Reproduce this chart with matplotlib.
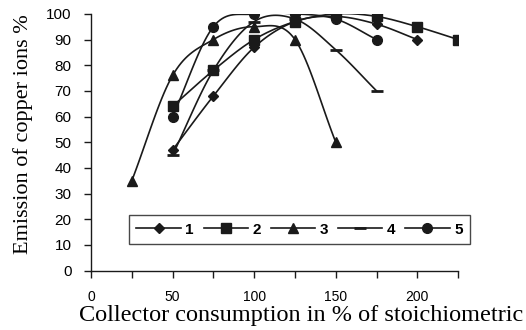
import numpy as np
import matplotlib
matplotlib.use("Agg")
import matplotlib.pyplot as plt

# collector consumption (% of stoichiometric) and emission (%) per series
x1 = [50, 75, 100, 125, 150, 175, 200]
y1 = [47, 68, 87, 97, 99, 96, 90]
x2 = [50, 75, 100, 125, 150, 175, 200, 225]
y2 = [64, 78, 90, 97, 100, 99, 95, 90]
x3 = [25, 50, 75, 100, 125, 150]
y3 = [35, 76, 90, 95, 90, 50]
x4 = [50, 75, 100, 125, 150, 175]
y4 = [45, 78, 97, 98, 86, 70]
x5 = [50, 75, 100, 125, 150, 175]
y5 = [60, 95, 100, 100, 98, 90]

labels = ["1", "2", "3", "4", "5"]
markers = ["D", "s", "^", "_", "o"]
msizes = [5, 7, 7, 9, 7]


def smooth(xs, ys, n=20):
    # catmull-rom style curve through the points, like Excel's smoothed line
    xs = np.asarray(xs, float)
    ys = np.asarray(ys, float)
    px = np.concatenate([[2 * xs[0] - xs[1]], xs, [2 * xs[-1] - xs[-2]]])
    py = np.concatenate([[2 * ys[0] - ys[1]], ys, [2 * ys[-1] - ys[-2]]])
    outx, outy = [], []
    t = np.linspace(0, 1, n)
    for i in range(1, len(px) - 2):
        for p, out in ((px, outx), (py, outy)):
            p0, p1, p2, p3 = p[i - 1], p[i], p[i + 1], p[i + 2]
            out.extend(0.5 * ((2 * p1) + (-p0 + p2) * t
                              + (2 * p0 - 5 * p1 + 4 * p2 - p3) * t ** 2
                              + (-p0 + 3 * p1 - 3 * p2 + p3) * t ** 3))
    return outx, outy


fig = plt.figure(figsize=(5.26, 3.30), dpi=100)
ax = fig.add_axes([0.173, 0.18, 0.698, 0.778])

series = [(x1, y1), (x2, y2), (x3, y3), (x4, y4), (x5, y5)]
handles = []
for (xs, ys), lab, mk, ms in zip(series, labels, markers, msizes):
    sx, sy = smooth(xs, ys)
    ax.plot(sx, sy, color="#1a1a1a", lw=1.2)
    ax.plot(xs, ys, linestyle="none", marker=mk, ms=ms, color="#1a1a1a",
            mew=2 if mk == "_" else 1)
    h, = ax.plot([], [], color="#1a1a1a", lw=1.2, marker=mk, ms=ms,
                 mew=2 if mk == "_" else 1, label=lab)
    handles.append(h)

ax.set_xlim(0, 225)
ax.set_ylim(0, 100)
ax.set_xticks(range(0, 226, 25))
ax.set_xticklabels([str(v) if v % 50 == 0 else "" for v in range(0, 226, 25)],
                   fontsize=10, family="Liberation Sans")
ax.set_yticks(range(0, 101, 10))
ax.set_yticklabels([str(v) for v in range(0, 101, 10)], fontsize=11,
                   family="Liberation Sans")
ax.tick_params(direction="out", length=5, width=1, pad=9, color="#1a1a1a")
for s in ["top", "right"]:
    ax.spines[s].set_visible(False)
for s in ["left", "bottom"]:
    ax.spines[s].set_linewidth(1)
    ax.spines[s].set_color("#1a1a1a")

fig.text(301 / 526, 1 - 315 / 330, "Collector consumption in % of stoichiometric",
         fontsize=17.5, family="Liberation Serif", ha="center", va="center")
fig.text(23 / 526, 1 - 134 / 330, "Emission of copper ions %", rotation=90,
         fontsize=16, family="Liberation Serif", ha="center", va="center")

leg = ax.legend(handles=handles, ncol=5, loc="lower left",
                bbox_to_anchor=(0.103, 0.103, 0.93, 0.117), mode="expand",
                prop={"family": "Liberation Sans", "weight": "bold", "size": 11},
                numpoints=1, handlelength=2.9, handletextpad=0.3,
                columnspacing=1.0, frameon=True, fancybox=False,
                borderaxespad=0, borderpad=0.5)
leg.get_frame().set_edgecolor("#1a1a1a")
leg.get_frame().set_linewidth(1)

fig.savefig("out.png", dpi=100)
